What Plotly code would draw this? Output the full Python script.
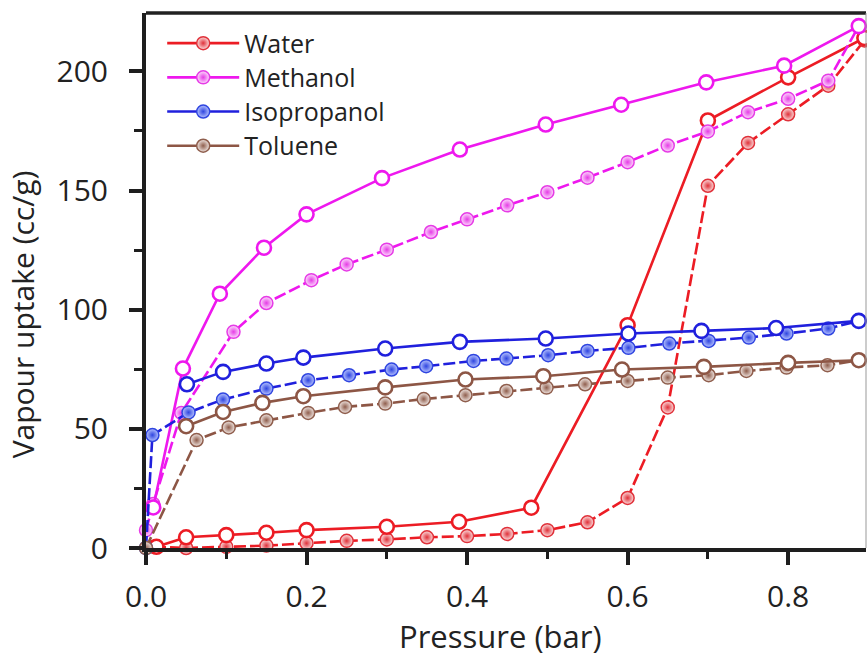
import plotly.graph_objects as go

# ---------------- data ----------------
water_ads_x = [0.01, 0.05, 0.10, 0.15, 0.20, 0.25, 0.30, 0.35, 0.40, 0.45, 0.50, 0.55, 0.60, 0.65, 0.70, 0.75, 0.80, 0.85, 0.895]
water_ads_y = [0.5, 0, 0.5, 1, 2, 3, 3.6, 4.5, 5, 5.9, 7.5, 10.8, 21, 59, 152, 170, 182, 194, 213]
water_des_x = [0.895, 0.80, 0.70, 0.60, 0.48, 0.39, 0.30, 0.20, 0.15, 0.10, 0.05, 0.013]
water_des_y = [214, 197.5, 179.4, 93.5, 16.9, 11, 8.9, 7.5, 6.4, 5.4, 4.5, 0.5]

meoh_ads_x = [0.0, 0.009, 0.044, 0.109, 0.15, 0.206, 0.25, 0.30, 0.355, 0.40, 0.45, 0.50, 0.55, 0.60, 0.65, 0.70, 0.75, 0.80, 0.85, 0.888]
meoh_ads_y = [7.5, 18.5, 56.7, 90.7, 102.8, 112.4, 119, 125.2, 132.6, 137.9, 143.8, 149.3, 155.4, 161.9, 168.9, 174.8, 182.9, 188.5, 196.1, 219]
meoh_des_x = [0.888, 0.795, 0.698, 0.592, 0.498, 0.391, 0.294, 0.200, 0.147, 0.092, 0.046, 0.009]
meoh_des_y = [219, 202.4, 195.4, 186, 177.7, 167.2, 155.2, 140, 126, 106.7, 75.3, 17]

ipa_ads_x = [0.0, 0.008, 0.053, 0.096, 0.15, 0.202, 0.253, 0.306, 0.349, 0.408, 0.449, 0.501, 0.55, 0.601, 0.652, 0.701, 0.751, 0.798, 0.85, 0.888]
ipa_ads_y = [0, 47.4, 56.9, 62.3, 66.9, 70.4, 72.5, 74.9, 76.3, 78.5, 79.5, 80.9, 82.7, 84, 85.8, 86.9, 88.3, 90, 92.1, 95.3]
ipa_des_x = [0.888, 0.785, 0.692, 0.601, 0.498, 0.391, 0.298, 0.196, 0.150, 0.096, 0.051]
ipa_des_y = [95.3, 92.3, 91.1, 90, 87.9, 86.5, 83.7, 79.9, 77.4, 73.9, 68.7]

tol_ads_x = [0.0, 0.063, 0.103, 0.15, 0.202, 0.248, 0.298, 0.346, 0.398, 0.449, 0.499, 0.547, 0.60, 0.65, 0.701, 0.748, 0.798, 0.849, 0.888]
tol_ads_y = [0, 45.3, 50.6, 53.6, 56.7, 59.2, 60.6, 62.5, 64.1, 65.9, 67.3, 68.7, 70.1, 71.5, 72.5, 74.3, 75.7, 76.7, 78.8]
tol_des_x = [0.888, 0.80, 0.695, 0.593, 0.495, 0.398, 0.298, 0.196, 0.145, 0.096, 0.050]
tol_des_y = [78.8, 77.7, 76, 74.9, 72.1, 70.7, 67.4, 63.7, 60.9, 57.1, 51.1]

names = ["Water", "Methanol", "Isopropanol", "Toluene"]
x_ticks = [0.0, 0.2, 0.4, 0.6, 0.8]
y_ticks = [0, 50, 100, 150, 200]

# ---------------- styles ----------------
line_colors = {"Water": "#ec1c24", "Methanol": "#ee18ee", "Isopropanol": "#2020dd", "Toluene": "#8d5645"}
edge_colors = {"Water": "#e0313a", "Methanol": "#e63be6", "Isopropanol": "#2f45e0", "Toluene": "#8f5e4d"}
center_colors = {"Water": "#fbe0e0", "Methanol": "#fde0fd", "Isopropanol": "#b8c4ff", "Toluene": "#f2e8e4"}

series = {
    "Water": (water_ads_x, water_ads_y, water_des_x, water_des_y),
    "Methanol": (meoh_ads_x, meoh_ads_y, meoh_des_x, meoh_des_y),
    "Isopropanol": (ipa_ads_x, ipa_ads_y, ipa_des_x, ipa_des_y),
    "Toluene": (tol_ads_x, tol_ads_y, tol_des_x, tol_des_y),
}

fig = go.Figure()

def filled_marker(n):
    return dict(symbol="circle", size=13, color=center_colors[n],
                gradient=dict(type="radial", color=edge_colors[n]),
                line=dict(color=edge_colors[n], width=1.5))

for n in names:
    ax, ay, dx, dy = series[n]
    fig.add_trace(go.Scatter(x=ax, y=ay, mode="lines+markers", showlegend=False,
                             line=dict(color=line_colors[n], width=2.6, dash="12px,4px"),
                             marker=filled_marker(n), cliponaxis=False))
    fig.add_trace(go.Scatter(x=dx, y=dy, mode="lines+markers", showlegend=False,
                             line=dict(color=line_colors[n], width=2.6),
                             marker=dict(symbol="circle", size=14, color="white",
                                         line=dict(color=line_colors[n], width=2.6)),
                             cliponaxis=False))

# legend entries
for n in names:
    fig.add_trace(go.Scatter(x=[None], y=[None], mode="lines+markers",
                             name='<span style="font-size:25px">%s</span>' % n,
                             line=dict(color=line_colors[n], width=2.6),
                             marker=filled_marker(n)))

FONT = "Open Sans, DejaVu Sans, sans-serif"
AX = "#1e1e1e"

fig.update_layout(
    width=867, height=662,
    margin=dict(l=146, r=1, t=13, b=114),
    paper_bgcolor="white", plot_bgcolor="white",
    font=dict(family=FONT, color="#222", size=30),
    legend=dict(x=0.0225, y=0.985, xanchor="left", yanchor="top",
                bgcolor="rgba(0,0,0,0)", font=dict(size=24, color="#222"),
                itemwidth=72, tracegroupgap=0),
    xaxis=dict(range=[0, 0.897], tickvals=x_ticks, tickformat=".1f",
               showline=True, linewidth=4, linecolor=AX, mirror=False,
               ticks="outside", ticklen=13, tickwidth=4, tickcolor=AX,
               minor=dict(dtick=0.1, tick0=0, ticks="outside", ticklen=7, tickwidth=3, tickcolor=AX),
               showgrid=False, zeroline=False, tickfont=dict(size=30, color="#222"),
               ticklabelstandoff=6),
    yaxis=dict(range=[0, 224.5], tickvals=y_ticks,
               showline=True, linewidth=4, linecolor=AX,
               ticks="outside", ticklen=13, tickwidth=4, tickcolor=AX,
               minor=dict(dtick=25, tick0=0, ticks="outside", ticklen=8, tickwidth=3, tickcolor=AX),
               showgrid=False, zeroline=False, tickfont=dict(size=30, color="#222"),
               ticklabelstandoff=15),
    shapes=[
        dict(type="line", xref="paper", yref="paper", x0=0, x1=1, y0=1, y1=1,
             line=dict(color="#222", width=3.5)),
        dict(type="line", xref="paper", yref="paper", x0=1, x1=1, y0=0, y1=1,
             line=dict(color="#999", width=1)),
    ],
    annotations=[
        dict(text="Pressure (bar)", xref="paper", yref="paper", x=0.492, y=-0.164,
             xanchor="center", yanchor="middle", showarrow=False,
             font=dict(size=31, color="#222")),
        dict(text="Vapour uptake (cc/g)", xref="paper", yref="paper", x=-0.172, y=0.437,
             xanchor="center", yanchor="middle", textangle=-90, showarrow=False,
             font=dict(size=30, color="#222")),
    ],
)

fig.write_html("out.html")
